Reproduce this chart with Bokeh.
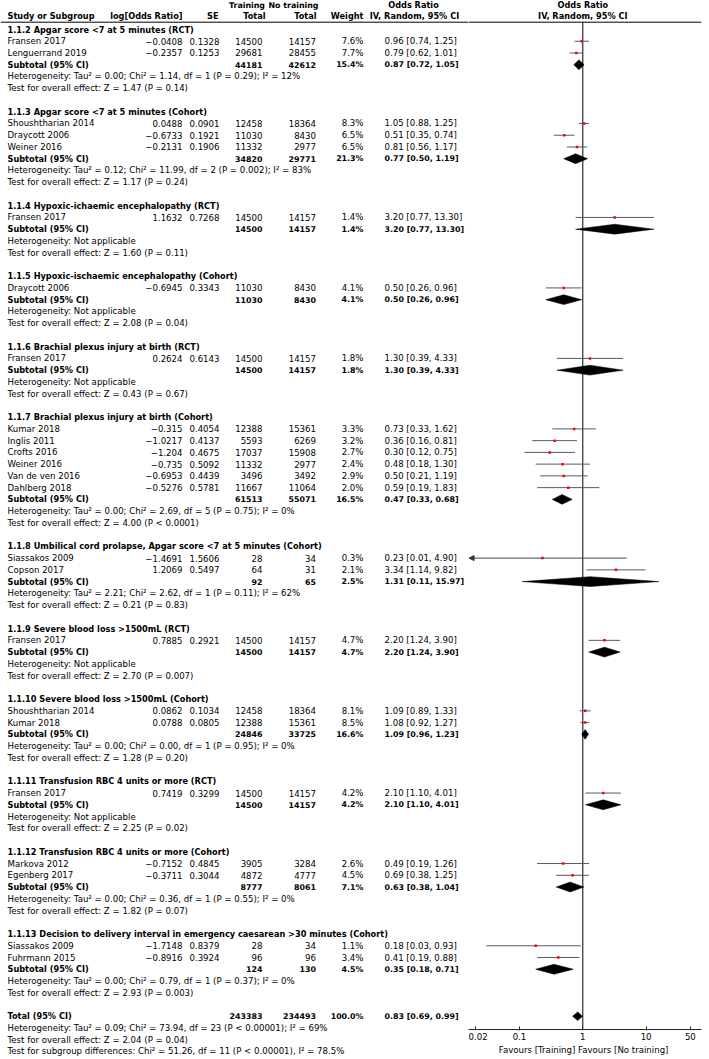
import math
from bokeh.plotting import figure
from bokeh.layouts import row
from bokeh.models import (Range1d, ColumnDataSource, Span, FixedTicker,
                          CustomJSTickFormatter, Arrow, NormalHead)
from bokeh.core.properties import value
from bokeh.embed import file_html
from bokeh.resources import INLINE

# ---------------------------------------------------------------- data
GROUP_TITLES = [
    "1.1.2 Apgar score <7 at 5 minutes (RCT)",
    "1.1.3 Apgar score <7 at 5 minutes (Cohort)",
    "1.1.4 Hypoxic-ichaemic encephalopathy (RCT)",
    "1.1.5 Hypoxic-ischaemic encephalopathy (Cohort)",
    "1.1.6 Brachial plexus injury at birth (RCT)",
    "1.1.7 Brachial plexus injury at birth (Cohort)",
    "1.1.8 Umbilical cord prolapse, Apgar score <7 at 5 minutes (Cohort)",
    "1.1.9 Severe blood loss >1500mL (RCT)",
    "1.1.10 Severe blood loss >1500mL (Cohort)",
    "1.1.11 Transfusion RBC 4 units or more (RCT)",
    "1.1.12 Transfusion RBC 4 units or more (Cohort)",
    "1.1.13 Decision to delivery interval in emergency caesarean >30 minutes (Cohort)",
]

STUDY_GROUP = [0, 0, 1, 1, 1, 2, 3, 4, 5, 5, 5, 5, 5, 5, 6, 6, 7, 8, 8, 9, 10, 10, 11, 11]
STUDY_NAMES = [
    "Fransen 2017", "Lenguerrand 2019",
    "Shoushtharian  2014", "Draycott 2006", "Weiner 2016",
    "Fransen 2017",
    "Draycott 2006",
    "Fransen 2017",
    "Kumar 2018", "Inglis 2011", "Crofts 2016", "Weiner 2016", "Van de ven 2016", "Dahlberg 2018",
    "Siassakos 2009", "Copson 2017",
    "Fransen 2017",
    "Shoushtharian  2014", "Kumar 2018",
    "Fransen 2017",
    "Markova  2012", "Egenberg 2017",
    "Siassakos 2009", "Fuhrmann 2015",
]
LOG_OR = [-0.0408, -0.2357, 0.0488, -0.6733, -0.2131, 1.1632, -0.6945, 0.2624,
          -0.315, -1.0217, -1.204, -0.735, -0.6953, -0.5276, -1.4691, 1.2069,
          0.7885, 0.0862, 0.0788, 0.7419, -0.7152, -0.3711, -1.7148, -0.8916]
SE = [0.1328, 0.1253, 0.0901, 0.1921, 0.1906, 0.7268, 0.3343, 0.6143,
      0.4054, 0.4137, 0.4675, 0.5092, 0.4439, 0.5781, 1.5606, 0.5497,
      0.2921, 0.1034, 0.0805, 0.3299, 0.4845, 0.3044, 0.8379, 0.3924]
N_TRAIN = [14500, 29681, 12458, 11030, 11332, 14500, 11030, 14500,
           12388, 5593, 17037, 11332, 3496, 11667, 28, 64,
           14500, 12458, 12388, 14500, 3905, 4872, 28, 96]
N_CTRL = [14157, 28455, 18364, 8430, 2977, 14157, 8430, 14157,
          15361, 6269, 15908, 2977, 3492, 11064, 34, 31,
          14157, 18364, 15361, 14157, 3284, 4777, 34, 96]
WEIGHT = [7.6, 7.7, 8.3, 6.5, 6.5, 1.4, 4.1, 1.8,
          3.3, 3.2, 2.7, 2.4, 2.9, 2.0, 0.3, 2.1,
          4.7, 8.1, 8.5, 4.2, 2.6, 4.5, 1.1, 3.4]
OR_EST = [0.96, 0.79, 1.05, 0.51, 0.81, 3.20, 0.50, 1.30,
          0.73, 0.36, 0.30, 0.48, 0.50, 0.59, 0.23, 3.34,
          2.20, 1.09, 1.08, 2.10, 0.49, 0.69, 0.18, 0.41]
CI_LO = [0.74, 0.62, 0.88, 0.35, 0.56, 0.77, 0.26, 0.39,
         0.33, 0.16, 0.12, 0.18, 0.21, 0.19, 0.01, 1.14,
         1.24, 0.89, 0.92, 1.10, 0.19, 0.38, 0.03, 0.19]
CI_HI = [1.25, 1.01, 1.25, 0.74, 1.17, 13.30, 0.96, 4.33,
         1.62, 0.81, 0.75, 1.30, 1.19, 1.83, 4.90, 9.82,
         3.90, 1.33, 1.27, 4.01, 1.26, 1.25, 0.93, 0.88]

SUB_N_TRAIN = [44181, 34820, 14500, 11030, 14500, 61513, 92, 14500, 24846, 14500, 8777, 124]
SUB_N_CTRL = [42612, 29771, 14157, 8430, 14157, 55071, 65, 14157, 33725, 14157, 8061, 130]
SUB_WEIGHT = [15.4, 21.3, 1.4, 4.1, 1.8, 16.5, 2.5, 4.7, 16.6, 4.2, 7.1, 4.5]
SUB_OR = [0.87, 0.77, 3.20, 0.50, 1.30, 0.47, 1.31, 2.20, 1.09, 2.10, 0.63, 0.35]
SUB_LO = [0.72, 0.50, 0.77, 0.26, 0.39, 0.33, 0.11, 1.24, 0.96, 1.10, 0.38, 0.18]
SUB_HI = [1.05, 1.19, 13.30, 0.96, 4.33, 0.68, 15.97, 3.90, 1.23, 4.01, 1.04, 0.71]
SUB_HET = [
    "Heterogeneity: Tau\u00b2 = 0.00; Chi\u00b2 = 1.14, df = 1 (P = 0.29); I\u00b2 = 12%",
    "Heterogeneity: Tau\u00b2 = 0.12; Chi\u00b2 = 11.99, df = 2 (P = 0.002); I\u00b2 = 83%",
    "Heterogeneity: Not applicable",
    "Heterogeneity: Not applicable",
    "Heterogeneity: Not applicable",
    "Heterogeneity: Tau\u00b2 = 0.00; Chi\u00b2 = 2.69, df = 5 (P = 0.75); I\u00b2 = 0%",
    "Heterogeneity: Tau\u00b2 = 2.21; Chi\u00b2 = 2.62, df = 1 (P = 0.11); I\u00b2 = 62%",
    "Heterogeneity: Not applicable",
    "Heterogeneity: Tau\u00b2 = 0.00; Chi\u00b2 = 0.00, df = 1 (P = 0.95); I\u00b2 = 0%",
    "Heterogeneity: Not applicable",
    "Heterogeneity: Tau\u00b2 = 0.00; Chi\u00b2 = 0.36, df = 1 (P = 0.55); I\u00b2 = 0%",
    "Heterogeneity: Tau\u00b2 = 0.00; Chi\u00b2 = 0.79, df = 1 (P = 0.37); I\u00b2 = 0%",
]
SUB_TEST = [
    "Test for overall effect: Z = 1.47 (P = 0.14)",
    "Test for overall effect: Z = 1.17 (P = 0.24)",
    "Test for overall effect: Z = 1.60 (P = 0.11)",
    "Test for overall effect: Z = 2.08 (P = 0.04)",
    "Test for overall effect: Z = 0.43 (P = 0.67)",
    "Test for overall effect: Z = 4.00 (P < 0.0001)",
    "Test for overall effect: Z = 0.21 (P = 0.83)",
    "Test for overall effect: Z = 2.70 (P = 0.007)",
    "Test for overall effect: Z = 1.28 (P = 0.20)",
    "Test for overall effect: Z = 2.25 (P = 0.02)",
    "Test for overall effect: Z = 1.82 (P = 0.07)",
    "Test for overall effect: Z = 2.93 (P = 0.003)",
]

TOTAL_N_TRAIN = 243383
TOTAL_N_CTRL = 234493
TOTAL_WEIGHT = 100.0
TOTAL_OR = 0.83
TOTAL_LO = 0.69
TOTAL_HI = 0.99
TOTAL_LINES = [
    "Heterogeneity: Tau\u00b2 = 0.09; Chi\u00b2 = 73.94, df = 23 (P < 0.00001); I\u00b2 = 69%",
    "Test for overall effect: Z = 2.04 (P = 0.04)",
    "Test for subgroup differences: Chi\u00b2 = 51.26, df = 11 (P < 0.00001), I\u00b2 = 78.5%",
]

TICKS = [0.02, 0.1, 1, 10, 50]
AXIS_LABEL = "Favours [Training]  Favours [No training]"

# ---------------------------------------------------------------- layout constants
W, H = 709, 1059
PITCH = 11.747          # pixels per row
ROW0_Y = 29.0           # y of first row


def rr(y_px):
    return (y_px - ROW0_Y) / PITCH


ROW_TOP = rr(0)
ROW_BOT = rr(H)
RPP = (ROW_BOT - ROW_TOP) / H   # rows per pixel

FONT = value("DejaVu Sans")
FS = "8.6px"        # regular text
FSB = "8.2px"       # bold labels / headers
FSN = "7.9px"       # bold numbers
LEFT_W = 468
FOREST_W = W - LEFT_W
FOREST_RB = 8
FOREST_BB = 30
X1_PX, DECADE = 582.3, 63.3

# ---------------------------------------------------------------- row indices
r = 0
title_rows, study_rows, sub_rows, het_rows, test_rows = [], [None] * len(STUDY_NAMES), [], [], []
for g in range(len(GROUP_TITLES)):
    title_rows.append(r); r += 1
    for i, sg in enumerate(STUDY_GROUP):
        if sg == g:
            study_rows[i] = r; r += 1
    sub_rows.append(r); r += 1
    het_rows.append(r); r += 1
    test_rows.append(r); r += 1
    r += 1
total_row = r
total_line_rows = [r + 1, r + 2, r + 3]
HDR1, HDR2, HDR_LINE = rr(4.5), rr(15.0), rr(21.7)


def fmt_num(v):
    return str(v).replace("-", "\u2212")


def fmt_ci(o, lo, hi):
    return f"{o:.2f} [{lo:.2f}, {hi:.2f}]"


def add_text(fig, xs, ys, texts, align="left", bold=False, size=None):
    src = ColumnDataSource(dict(x=xs, y=ys, t=texts))
    fig.text("x", "y", text="t", source=src, text_font=FONT,
             text_font_size=size or (FSB if bold else FS),
             text_align=align, text_baseline="middle", text_color="black",
             text_font_style="bold" if bold else "normal")


# ---------------------------------------------------------------- left table figure
left = figure(width=LEFT_W, height=H, output_backend="svg", toolbar_location=None,
              x_range=Range1d(0, LEFT_W), y_range=Range1d(ROW_BOT, ROW_TOP),
              x_axis_location=None, y_axis_location=None, min_border=0)
left.outline_line_color = None
left.grid.visible = False
left.frame_align = False

nS, nG = len(STUDY_NAMES), len(GROUP_TITLES)
X_NAME, X_LOG, X_SE, X_NT, X_NC, X_W, X_OR, X_ORH = 7, 182, 219, 262, 315.5, 363, 384, 413

# headers
add_text(left, [X_NT + 2.5, X_NC + 2.5], [HDR1, HDR1], ["Training", "No training"], "right", True, FSN)
add_text(left, [X_ORH], [HDR1], ["Odds Ratio"], "center", True)
add_text(left, [X_NAME], [HDR2], ["Study or Subgroup"], "left", True)
add_text(left, [X_LOG, X_SE - 1, X_NT + 3, X_NC + 0.5, X_W],
         [HDR2] * 5, ["log[Odds Ratio]", "SE", "Total", "Total", "Weight"], "right", True)
add_text(left, [X_ORH + 1], [HDR2], ["IV, Random, 95% CI"], "center", True)
left.add_layout(Span(location=HDR_LINE, dimension="width", line_color="black", line_width=1))

# group titles / subtotal labels
add_text(left, [X_NAME] * nG, title_rows, GROUP_TITLES, "left", True)
add_text(left, [X_NAME] * (nG + 1), sub_rows + [total_row],
         ["Subtotal (95% CI)"] * nG + ["Total (95% CI)"], "left", True)
# studies
add_text(left, [X_NAME] * nS, study_rows, STUDY_NAMES, "left")
add_text(left, [X_LOG] * nS, study_rows, [fmt_num(v) for v in LOG_OR], "right")
add_text(left, [X_SE] * nS, study_rows, [fmt_num(v) for v in SE], "right")
add_text(left, [X_NT] * nS, study_rows, [str(v) for v in N_TRAIN], "right")
add_text(left, [X_NC] * nS, study_rows, [str(v) for v in N_CTRL], "right")
add_text(left, [X_W] * nS, study_rows, [f"{v:.1f}%" for v in WEIGHT], "right")
add_text(left, [X_OR] * nS, study_rows,
         [fmt_ci(o, l, h) for o, l, h in zip(OR_EST, CI_LO, CI_HI)], "left")
# subtotals + total
srows = sub_rows + [total_row]
add_text(left, [X_NT] * (nG + 1), srows, [str(v) for v in SUB_N_TRAIN + [TOTAL_N_TRAIN]], "right", True, FSN)
add_text(left, [X_NC] * (nG + 1), srows, [str(v) for v in SUB_N_CTRL + [TOTAL_N_CTRL]], "right", True, FSN)
add_text(left, [X_W] * (nG + 1), srows, [f"{v:.1f}%" for v in SUB_WEIGHT + [TOTAL_WEIGHT]], "right", True, FSN)
add_text(left, [X_OR] * (nG + 1), srows,
         [fmt_ci(o, l, h) for o, l, h in zip(SUB_OR + [TOTAL_OR], SUB_LO + [TOTAL_LO], SUB_HI + [TOTAL_HI])],
         "left", True, FSN)
# heterogeneity / tests
add_text(left, [X_NAME] * (2 * nG + 3), het_rows + test_rows + total_line_rows,
         SUB_HET + SUB_TEST + TOTAL_LINES, "left")

# ---------------------------------------------------------------- forest figure
frame_l = LEFT_W
frame_r = W - FOREST_RB
xmin = 10 ** ((frame_l - X1_PX) / DECADE)
xmax = 10 ** ((frame_r - X1_PX) / DECADE)
forest_bot = ROW_TOP + (H - FOREST_BB) * RPP

fp = figure(width=FOREST_W, height=H, output_backend="svg", toolbar_location=None,
            x_axis_type="log", x_range=Range1d(xmin, xmax),
            y_range=Range1d(forest_bot, ROW_TOP), y_axis_location=None,
            min_border_left=0, min_border_right=FOREST_RB, min_border_top=0,
            min_border_bottom=FOREST_BB)
fp.outline_line_color = None
fp.grid.visible = False
fp.frame_align = False
ax = fp.xaxis[0]
ax.ticker = FixedTicker(ticks=TICKS)
ax.formatter = CustomJSTickFormatter(code="return tick.toString();")
ax.minor_tick_line_color = None
ax.major_tick_in = 3
ax.major_tick_out = 1
ax.axis_line_color = "#222222"
ax.major_tick_line_color = "#222222"
ax.major_label_text_font = "DejaVu Sans"
ax.major_label_text_font_size = FS
ax.major_label_text_color = "black"
ax.major_label_standoff = 2
ax.axis_label = AXIS_LABEL
ax.axis_label_text_font = "DejaVu Sans"
ax.axis_label_text_font_size = FS
ax.axis_label_text_font_style = "normal"
ax.axis_label_text_color = "black"
ax.axis_label_standoff = 2

add_text(fp, [1, 1], [HDR1, HDR2], ["Odds Ratio", "IV, Random, 95% CI"], "center", True)
fp.add_layout(Span(location=HDR_LINE, dimension="width", line_color="black", line_width=1))
fp.segment(x0=[1], y0=[HDR_LINE], x1=[1], y1=[forest_bot], line_color="black", line_width=1)

# study confidence intervals
inr = [i for i in range(nS) if CI_LO[i] >= xmin]
outr = [i for i in range(nS) if CI_LO[i] < xmin]
fp.segment(x0=[CI_LO[i] for i in inr], y0=[study_rows[i] for i in inr],
           x1=[CI_HI[i] for i in inr], y1=[study_rows[i] for i in inr],
           line_color="#5a5a5a", line_width=1)
for i in outr:
    fp.add_layout(Arrow(end=NormalHead(size=5, fill_color="#333333", line_color="#333333"),
                        x_start=CI_HI[i], y_start=study_rows[i], x_end=xmin * 1.02, y_end=study_rows[i],
                        line_color="#444444", line_width=1))
fp.scatter(x=OR_EST, y=study_rows, marker="square", size=2.5, fill_color="red",
           line_color=None)

# diamonds
DH = 0.42
d_or = SUB_OR + [TOTAL_OR]
d_lo = SUB_LO + [TOTAL_LO]
d_hi = SUB_HI + [TOTAL_HI]
d_h = [DH] * nG + [0.37]
xs = [[l, o, h, o] for o, l, h in zip(d_or, d_lo, d_hi)]
ys = [[y, y - hh, y, y + hh] for y, hh in zip(srows, d_h)]
fp.patches(xs=xs, ys=ys, fill_color="black", line_color="black", line_width=0.5)

layout = row(left, fp)
open("out.html", "w").write(file_html(layout, INLINE))
